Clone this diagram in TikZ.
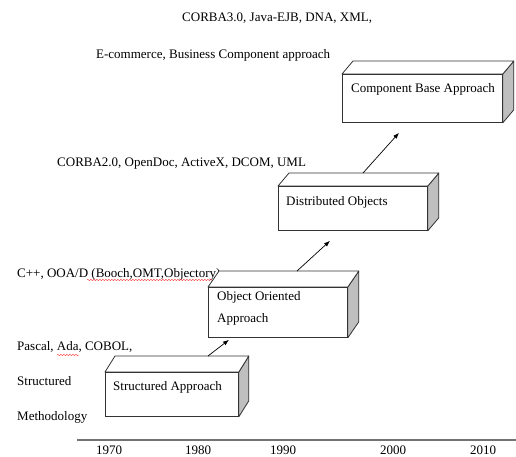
\documentclass[tikz,border=0pt]{standalone}
\usepackage{fontspec}
\setmainfont{Liberation Serif}
\usetikzlibrary{arrows.meta,calc,decorations.pathmorphing}
\tikzset{
  lbl/.style={inner sep=0pt, font=\fontsize{13}{15}\selectfont, text=black},
  frontface/.style={draw=black!80, fill=white, line width=0.8pt, inner sep=0pt, anchor=north west},
  topface/.style={draw=black!80, fill=white, line width=0.8pt, line join=round},
  sideface/.style={draw=black!80, fill=black!25, line width=0.8pt, line join=round},
  boxtext/.style={inner sep=0pt, anchor=west, align=left, font=\fontsize{13}{22}\selectfont, text=black},
  conn/.style={-{Latex[length=6pt,width=4.5pt]}, line width=0.7pt, black},
  wavy/.style={red!80, line width=0.4pt, decorate, decoration={snake, segment length=3pt, amplitude=0.7pt}}
}
\newcommand{\cuboid}[6]{%
  % #1 name, #2 width, #3 height, #4 dx, #5 dy, #6 position
  \node[frontface, minimum width=#2pt, minimum height=#3pt] (#1) at #6 {};
  \draw[sideface] (#1.north east) -- ++(#4,#5) -- ($(#1.south east)+(#4,#5)$) -- (#1.south east) -- cycle;
  \draw[topface] (#1.north west) -- ++(#4,#5) -- ($(#1.north east)+(#4,#5)$) -- (#1.north east) -- cycle;
  \draw[draw=black!80, line width=0.8pt] (#1.north west) rectangle (#1.south east);
}
\begin{document}
\begin{tikzpicture}[x=1pt,y=-1pt]
\useasboundingbox (0,0) rectangle (516,456);

% labels
\node[lbl, anchor=west] (l3a) at (182,18) {CORBA3.0, Java-EJB, DNA, XML,};
\node[lbl, anchor=west] (l3b) at (96,55) {E-commerce, Business Component approach};
\node[lbl, anchor=west] (l2) at (57,164) {CORBA2.0, OpenDoc, ActiveX, DCOM, UML};
\node[lbl, anchor=west] (l1) at (17,274) {C++, OOA/D (Booch,OMT,Objectory)};
\node[lbl, anchor=north west, align=left, font=\fontsize{13}{35}\selectfont] (l0) at (17,341) {Pascal, Ada, COBOL,\\Structured\\Methodology};

% spell-check underlines
\draw[wavy] (87,280) -- (215,280);
\draw[wavy] (57,355) -- (79,355);

% boxes
\cuboid{cb}{160}{48}{11}{-13}{(342,74)}
\node[boxtext] (cbt) at (351,89) {Component Base Approach};

\cuboid{do}{149}{44}{11}{-13}{(278,186)}
\node[boxtext] (dot) at (286,202) {Distributed Objects};

\cuboid{oo}{139}{50}{11}{-16}{(208,287)}
\node[boxtext, anchor=north west] (oot) at (217,291) {Object Oriented\\Approach};

\cuboid{sa}{133}{44}{10}{-16}{(105,372)}
\node[boxtext] (sat) at (113,387) {Structured Approach};

% connectors
\coordinate (s1) at ($(sa.north west)+(103,-16)$);
\coordinate (t1) at ($(oo.south west)+(21,2)$);
\coordinate (s2) at ($(oo.north west)+(89,-16)$);
\coordinate (t2) at ($(do.south west)+(52,10)$);
\coordinate (s3) at ($(do.north west)+(85,-13)$);
\coordinate (t3) at ($(cb.south west)+(57,10)$);
\draw[conn] (s1) -- (t1);
\draw[conn] (s2) -- (t2);
\draw[conn] (s3) -- (t3);

% axis
\coordinate (ax0) at (77,440);
\coordinate (ax1) at (516,440);
\draw[black!55, line width=1.5pt] (ax0) -- (ax1);
\foreach \yr/\xx in {1970/109,1980/198,1990/283,2000/393,2010/483}{
  \node[lbl, anchor=base] (y\yr) at (\xx,454.5) {\yr};
}
\end{tikzpicture}
\end{document}
